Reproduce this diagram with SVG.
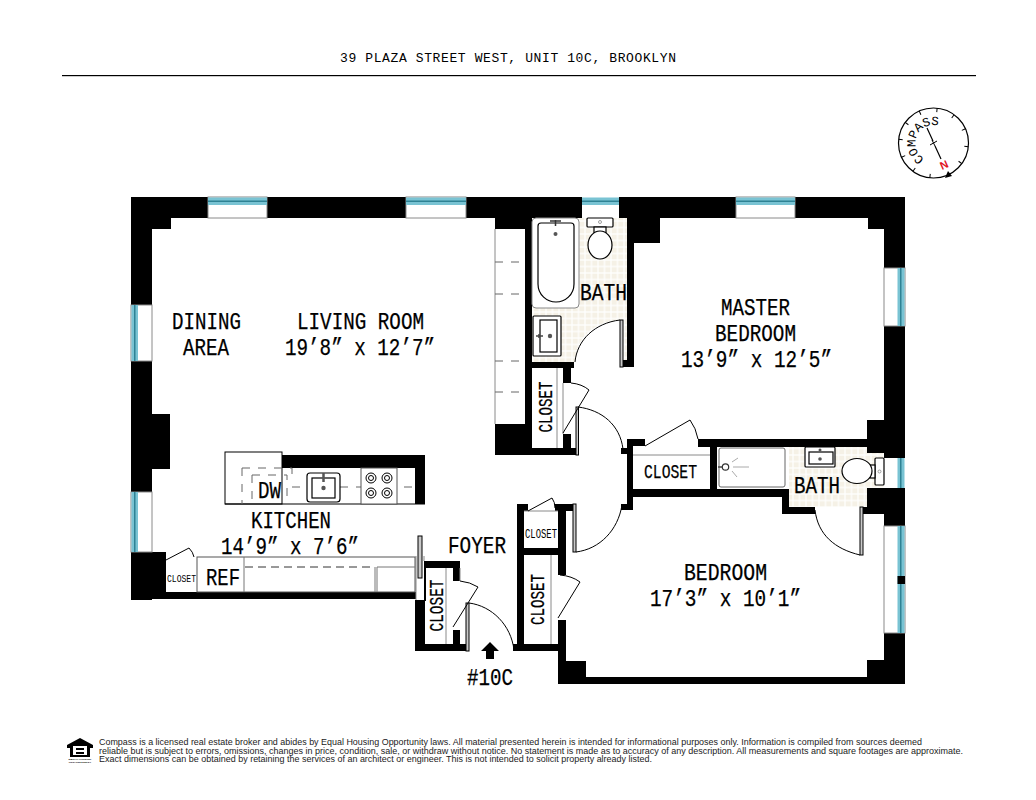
<svg xmlns="http://www.w3.org/2000/svg" width="1036" height="800" viewBox="0 0 1036 800">
<defs>
<pattern id="tile" width="6.5" height="6.5" patternUnits="userSpaceOnUse"><rect width="6.5" height="6.5" fill="#ffffff"/><rect x="0.6" y="0.6" width="5.3" height="5.3" fill="#f5f1e6"/></pattern>
</defs>
<style>
.w{fill:#000}
.glass{fill:#fff;stroke:#8a8a8a;stroke-width:1}
.band{fill:#79c3d3}
.mid{fill:#2f8294}
.leaf{fill:#c9c9c9;stroke:#000;stroke-width:1}
.swing{fill:none;stroke:#000;stroke-width:1}
.fine{fill:none;stroke:#8a8a8a;stroke-width:1}
.fx{fill:#fff;stroke:#000;stroke-width:1.2}
.grey{fill:none;stroke:#777;stroke-width:1}
.dash{fill:none;stroke:#666;stroke-width:1;stroke-dasharray:8 8}
.dot{fill:#555}
.t{font-family:"Liberation Mono",monospace;font-size:23px;fill:#000;stroke:#000;stroke-width:0.25}
.s{font-size:20px}
.xs{font-size:11px}
.h{font-family:"Liberation Mono",monospace;font-size:13px;fill:#000}
.f{font-family:"Liberation Sans",Arial,sans-serif;font-size:8.2px;fill:#222}
</style>
<rect width="1036" height="800" fill="#fff"/>
<text class="h" x="340" y="62" textLength="336" lengthAdjust="spacing">39 PLAZA STREET WEST, UNIT 10C, BROOKLYN</text>
<rect x="62" y="75" width="914" height="1.2" fill="#000"/>

<g id="compass">
<circle cx="933.5" cy="143" r="35" fill="#fff" stroke="#000" stroke-width="1.2"/>
<g stroke="#000" stroke-width="1">
<path d="M933.5 108v4" transform="rotate(6 933.5 143)"/>
<path d="M933.5 108v4" transform="rotate(36 933.5 143)"/>
<path d="M933.5 108v4" transform="rotate(66 933.5 143)"/>
<path d="M933.5 108v4" transform="rotate(96 933.5 143)"/>
<path d="M933.5 108v4" transform="rotate(126 933.5 143)"/>
<path d="M933.5 108v4" transform="rotate(186 933.5 143)"/>
<path d="M933.5 108v4" transform="rotate(216 933.5 143)"/>
<path d="M933.5 108v4" transform="rotate(246 933.5 143)"/>
<path d="M933.5 108v4" transform="rotate(276 933.5 143)"/>
<path d="M933.5 108v4" transform="rotate(306 933.5 143)"/>
<path d="M933.5 108v4" transform="rotate(336 933.5 143)"/>
<path d="M927 128L933 141M935 146L941 159" fill="none" stroke-width="1.2"/>
<path d="M930 145L937 141M932 140L935 146" fill="none"/>
</g>
<path d="M945 178L952 176L948 171Z" fill="#000"/>
<path id="carc" d="M924.500 158.600A18 18 0 0 1 939.700 126.100" fill="none"/>
<text font-family="Liberation Mono,monospace" font-size="12.500" fill="#000"><textPath href="#carc" textLength="52">COMPASS</textPath></text>
<text x="0" y="0" transform="translate(942 170) rotate(-24)" font-family="Liberation Sans,sans-serif" font-size="11" font-weight="bold" fill="#e1141e">N</text>
</g>

<g id="floors">
<rect x="532" y="218" width="95" height="144" fill="url(#tile)"/>
<rect x="789" y="447" width="95" height="60" fill="url(#tile)"/>
<path d="M620 320A45 42 0 0 0 575 362H620Z" fill="#fff"/>
</g>

<g id="walls" class="w">
<rect x="131" y="197" width="774" height="21"/>
<rect x="131" y="197" width="21" height="403"/>
<rect x="131" y="218" width="40" height="11"/>
<rect x="152" y="414" width="18" height="55"/>
<rect x="131" y="552" width="35" height="47"/>
<rect x="131" y="592" width="285" height="7"/>
<rect x="884" y="197" width="21" height="487"/>
<rect x="868" y="218" width="16" height="11"/>
<rect x="867" y="420" width="38" height="33"/>
<rect x="867" y="488" width="38" height="19"/>
<rect x="863" y="507" width="42" height="7"/>
<rect x="627" y="218" width="33" height="25"/>
<rect x="627" y="243" width="7" height="124"/>
<rect x="623" y="360" width="11" height="7"/>
<rect x="495" y="218" width="37" height="11"/>
<rect x="525" y="229" width="7" height="226"/>
<rect x="495" y="424" width="37" height="31"/>
<rect x="532" y="362" width="42" height="6"/>
<rect x="563" y="368" width="8" height="15"/>
<rect x="563" y="434" width="8" height="14"/>
<rect x="532" y="448" width="44" height="7"/>
<rect x="627" y="439" width="18" height="7"/>
<rect x="698" y="439" width="169" height="8"/>
<rect x="627" y="439" width="6" height="71"/>
<rect x="621" y="448" width="6" height="6"/>
<rect x="621" y="504" width="12" height="6"/>
<rect x="633" y="489" width="149" height="8"/>
<rect x="710" y="447" width="7" height="42"/>
<rect x="782" y="489" width="7" height="25"/>
<rect x="782" y="507" width="33" height="7"/>
<rect x="558" y="677" width="347" height="7"/>
<rect x="558" y="620" width="8" height="64"/>
<rect x="558" y="661" width="28" height="23"/>
<rect x="867" y="660" width="38" height="24"/>
<rect x="558" y="504" width="8" height="71"/>
<rect x="555" y="504" width="18" height="7"/>
<rect x="517" y="504" width="11" height="7"/>
<rect x="517" y="504" width="7" height="147"/>
<rect x="524" y="548" width="35" height="7"/>
<rect x="513" y="644" width="53" height="7"/>
<rect x="415" y="600" width="10" height="51"/>
<rect x="415" y="644" width="51" height="7"/>
<rect x="425" y="561" width="35" height="7"/>
<rect x="453" y="561" width="7" height="20"/>
<rect x="453" y="630" width="7" height="14"/>
<rect x="424" y="561" width="2" height="40"/>
</g>

<g id="windows">
<rect class="glass" x="208" y="197" width="59" height="21"/><rect class="band" x="208" y="197.5" width="59" height="7.5"/><rect class="mid" x="208" y="200.5" width="59" height="1.5"/>
<rect class="glass" x="406" y="197" width="60" height="21"/><rect class="band" x="406" y="197.5" width="60" height="7.5"/><rect class="mid" x="406" y="200.5" width="60" height="1.5"/>
<rect x="582" y="197" width="37" height="21" fill="#fff"/><rect class="band" x="582" y="197.5" width="37" height="7.5"/><rect class="mid" x="582" y="200.5" width="37" height="1.5"/>
<rect class="glass" x="736" y="197" width="59" height="21"/><rect class="band" x="736" y="197.5" width="59" height="7.5"/><rect class="mid" x="736" y="200.5" width="59" height="1.5"/>
<rect class="glass" x="131" y="305" width="21" height="56"/><rect class="band" x="131.5" y="305" width="6.5" height="56"/><rect class="mid" x="134" y="305" width="1.5" height="56"/>
<rect class="glass" x="131" y="492" width="21" height="60"/><rect class="band" x="131.5" y="492" width="6.5" height="60"/><rect class="mid" x="134" y="492" width="1.5" height="60"/>
<rect class="glass" x="884" y="268" width="21" height="58"/><rect class="band" x="897.5" y="268" width="7" height="58"/><rect class="mid" x="900" y="268" width="1.5" height="58"/>
<rect x="884" y="458" width="21" height="30" fill="#fff"/><rect class="band" x="897.5" y="458" width="7" height="30"/><rect class="mid" x="900" y="458" width="1.5" height="30"/>
<rect class="glass" x="884" y="526" width="21" height="107"/><rect class="band" x="897.5" y="526" width="7" height="107"/><rect class="mid" x="900" y="526" width="1.5" height="107"/>
<rect x="897.5" y="576" width="7.5" height="8" fill="#000"/>
</g>

<g id="closet-shelves">
<path class="fine" d="M495 229V424"/>
<path class="dash" d="M495 262H525M495 294H525M495 361H525M495 392H525"/>
<path class="fine" d="M557 368V448M446 568V644M551 555V644M524 511H558M633 455H710M460 568V581M563 383V434"/>
</g>

<g id="doors">
<rect class="leaf" x="620" y="320" width="3" height="47"/>
<path class="swing" d="M620 320C595 323 577 340 575 362"/>
<rect class="leaf" x="576" y="407" width="2.5" height="48"/>
<path class="swing" d="M578 407C602 410 620 425 623 449"/>
<path class="swing" d="M563 433L589 390M571 383Q582 384 589 390"/>
<path class="swing" d="M645 446L690 420Q696 428 698 439"/>
<rect class="leaf" x="860" y="507" width="3" height="48"/>
<path class="swing" d="M860 555C835 549 818 535 815 510"/>
<rect class="leaf" x="573" y="504" width="3" height="48"/>
<path class="swing" d="M576 552C600 549 618 530 622 505"/>
<path class="swing" d="M528 511L552 498Q555 502 555 508"/>
<path class="swing" d="M558 618L580 582Q572 576 560 575"/>
<rect class="leaf" x="466" y="603" width="3" height="48"/>
<path class="swing" d="M469 603C492 606 511 625 514 650"/>
<path class="swing" d="M453 627L478 587Q470 582 460 581"/>
<rect class="leaf" x="418" y="536" width="4" height="42"/>
<path class="fine" d="M416 556V600M424 556V561"/>
<path class="swing" d="M166 560L189 548Q193 552 194 557"/>
</g>

<g id="kitchen">
<rect x="225" y="452" width="57" height="52" fill="#fff" stroke="#000" stroke-width="1"/>
<rect class="w" x="282" y="455" width="143" height="13"/>
<rect class="w" x="415" y="455" width="10" height="49"/>
<path d="M225 504H425" stroke="#000" stroke-width="1.2"/>
<path class="dash" d="M292 487H415" stroke-dasharray="8 12"/>
<path class="dash" stroke-dasharray="5 4" d="M242 468H292V476M242 468V504M252 475V504M252 475H287V504"/>
<rect class="fx" x="307" y="473" width="33" height="29" rx="3"/>
<rect class="fx" x="312" y="478" width="23" height="20"/>
<path d="M323.500 473V482" stroke="#555" stroke-width="2.500"/>
<circle class="dot" cx="323.500" cy="488" r="2.200"/>
<rect x="361" y="468" width="36" height="36" fill="#fff" stroke="#555" stroke-width="1"/>
<g fill="none" stroke="#000" stroke-width="1">
<circle cx="371" cy="478" r="5"/><circle cx="371" cy="478" r="2.500"/>
<circle cx="387" cy="478" r="5"/><circle cx="387" cy="478" r="2.500"/>
<circle cx="371" cy="493" r="5"/><circle cx="371" cy="493" r="2.500"/>
<circle cx="387" cy="493" r="5"/><circle cx="387" cy="493" r="2.500"/>
</g>
<rect x="197" y="557" width="218" height="35" fill="#fff" stroke="#555" stroke-width="1"/>
<path class="grey" d="M244 557V592M375 567V592M377 567V592M377 567H415"/>
<path d="M245 567H375" fill="none" stroke="#333" stroke-width="1" stroke-dasharray="8 5"/>
</g>

<g id="bath-main">
<rect x="532" y="218" width="47" height="90" rx="4" fill="#fff" stroke="#888" stroke-width="1"/>
<path class="fx" d="M538 226Q538 223 541 223H571Q574 223 574 226V284C574 295 565 302 556 302C547 302 538 295 538 284Z"/>
<path d="M550 221H561M555.500 220V226" stroke="#333" stroke-width="1.500"/>
<circle class="dot" cx="555.500" cy="234" r="2"/>
<rect class="fx" x="587" y="218" width="26" height="9" rx="1"/>
<rect class="fx" x="594" y="227" width="12" height="6"/>
<ellipse class="fx" cx="600" cy="245" rx="12" ry="14"/>
<circle cx="600" cy="222" r="1.500" fill="#fff" stroke="#888" stroke-width="0.800"/>
<rect class="fx" x="533" y="316" width="28" height="40" rx="1"/>
<rect class="fx" x="540" y="320" width="17" height="32"/>
<path d="M536 336H543M539 334V338" stroke="#444" stroke-width="1.500"/>
<circle class="dot" cx="550" cy="336" r="2.200"/>
</g>

<g id="bath-second">
<rect x="717" y="447" width="70" height="42" fill="#fff"/>
<rect x="719" y="448" width="66" height="39" rx="2" fill="#fff" stroke="#666" stroke-width="1"/>
<path d="M718 467H722" stroke="#444" stroke-width="1.500"/>
<circle cx="725.500" cy="467" r="3.200" fill="#fff" stroke="#333" stroke-width="1.200"/>
<path d="M732 462L738 458M733 467H749M732 471L737 477" stroke="#aaa" stroke-width="1" fill="none"/>
<rect class="fx" x="805" y="447" width="30" height="20" rx="1"/>
<rect class="fx" x="809" y="452" width="24" height="12"/>
<circle class="dot" cx="820" cy="450" r="1.500"/>
<circle class="dot" cx="820" cy="459" r="1.800"/>
<rect class="fx" x="875" y="458" width="9" height="27" rx="1"/>
<rect class="fx" x="870" y="465" width="5" height="13"/>
<ellipse class="fx" cx="857" cy="471" rx="15" ry="12.500"/>
<circle cx="879.500" cy="471.500" r="1.500" fill="#fff" stroke="#888" stroke-width="0.800"/>
</g>

<g id="labels">
<text class="t" x="172" y="328.500" textLength="69" lengthAdjust="spacingAndGlyphs">DINING</text>
<text class="t" x="183" y="354.500" textLength="46" lengthAdjust="spacingAndGlyphs">AREA</text>
<text class="t" x="297" y="328.500" textLength="127" lengthAdjust="spacingAndGlyphs">LIVING ROOM</text>
<text class="t" x="285" y="354.500" textLength="150" lengthAdjust="spacingAndGlyphs">19’8” x 12’7”</text>
<text class="t" x="721" y="314.500" textLength="69" lengthAdjust="spacingAndGlyphs">MASTER</text>
<text class="t" x="715" y="340.500" textLength="81" lengthAdjust="spacingAndGlyphs">BEDROOM</text>
<text class="t" x="681" y="366.500" textLength="151" lengthAdjust="spacingAndGlyphs">13’9” x 12’5”</text>
<text class="t" x="251" y="527.500" textLength="80" lengthAdjust="spacingAndGlyphs">KITCHEN</text>
<text class="t" x="221" y="553.500" textLength="138" lengthAdjust="spacingAndGlyphs">14’9” x 7’6”</text>
<text class="t" x="258" y="498" textLength="23" lengthAdjust="spacingAndGlyphs">DW</text>
<text class="t" x="206" y="584.500" textLength="34" lengthAdjust="spacingAndGlyphs">REF</text>
<text class="t xs" x="167" y="581.500" textLength="29" lengthAdjust="spacingAndGlyphs" style="stroke-width:0">CLOSET</text>
<text class="t" x="448" y="552.500" textLength="58" lengthAdjust="spacingAndGlyphs">FOYER</text>
<text class="t" x="467" y="684.500" textLength="46" lengthAdjust="spacingAndGlyphs">#10C</text>
<text class="t" x="580" y="299.500" textLength="47" lengthAdjust="spacingAndGlyphs">BATH</text>
<text class="t" x="794" y="492.500" textLength="46" lengthAdjust="spacingAndGlyphs">BATH</text>
<text class="t" x="684" y="579.500" textLength="83" lengthAdjust="spacingAndGlyphs">BEDROOM</text>
<text class="t" x="650" y="605.500" textLength="151" lengthAdjust="spacingAndGlyphs">17’3” x 10’1”</text>
<text class="t s" x="644" y="477.500" textLength="53" lengthAdjust="spacingAndGlyphs">CLOSET</text>
<text class="t" style="font-size:12px;stroke-width:0" x="525" y="538" textLength="32" lengthAdjust="spacingAndGlyphs">CLOSET</text>
<text class="t s" transform="translate(552 432.500) rotate(-90)" textLength="51" lengthAdjust="spacingAndGlyphs">CLOSET</text>
<text class="t s" transform="translate(443 631.500) rotate(-90)" textLength="52" lengthAdjust="spacingAndGlyphs">CLOSET</text>
<text class="t s" transform="translate(544 625) rotate(-90)" textLength="51" lengthAdjust="spacingAndGlyphs">CLOSET</text>
</g>

<g id="entry-arrow"><path d="M490 642L499 651H494V659H486V651H481Z" fill="#000"/></g>

<g id="footer">
<path d="M80 738L93 745V748H90V757H70V748H67V745Z" fill="#000"/>
<rect x="73" y="746" width="14" height="9" fill="#fff"/>
<rect x="76" y="748" width="8" height="2" fill="#000"/><rect x="76" y="752" width="8" height="2" fill="#000"/>
<text font-family="Liberation Sans,sans-serif" font-size="2.500" font-weight="bold" x="80" y="760" text-anchor="middle" textLength="23" lengthAdjust="spacingAndGlyphs">EQUAL HOUSING</text>
<text font-family="Liberation Sans,sans-serif" font-size="2.500" font-weight="bold" x="80" y="763" text-anchor="middle" textLength="23" lengthAdjust="spacingAndGlyphs">OPPORTUNITY</text>
<text class="f" x="99" y="745" textLength="823" lengthAdjust="spacingAndGlyphs">Compass is a licensed real estate broker and abides by Equal Housing Opportunity laws. All material presented herein is intended for informational purposes only. Information is compiled from sources deemed</text>
<text class="f" x="99" y="753.500" textLength="864" lengthAdjust="spacingAndGlyphs">reliable but is subject to errors, omissions, changes in price, condition, sale, or withdraw without notice. No statement is made as to accuracy of any description. All measurements and square footages are approximate.</text>
<text class="f" x="99" y="762" textLength="553" lengthAdjust="spacingAndGlyphs">Exact dimensions can be obtained by retaining the services of an architect or engineer. This is not intended to solicit property already listed.</text>
</g>
</svg>
